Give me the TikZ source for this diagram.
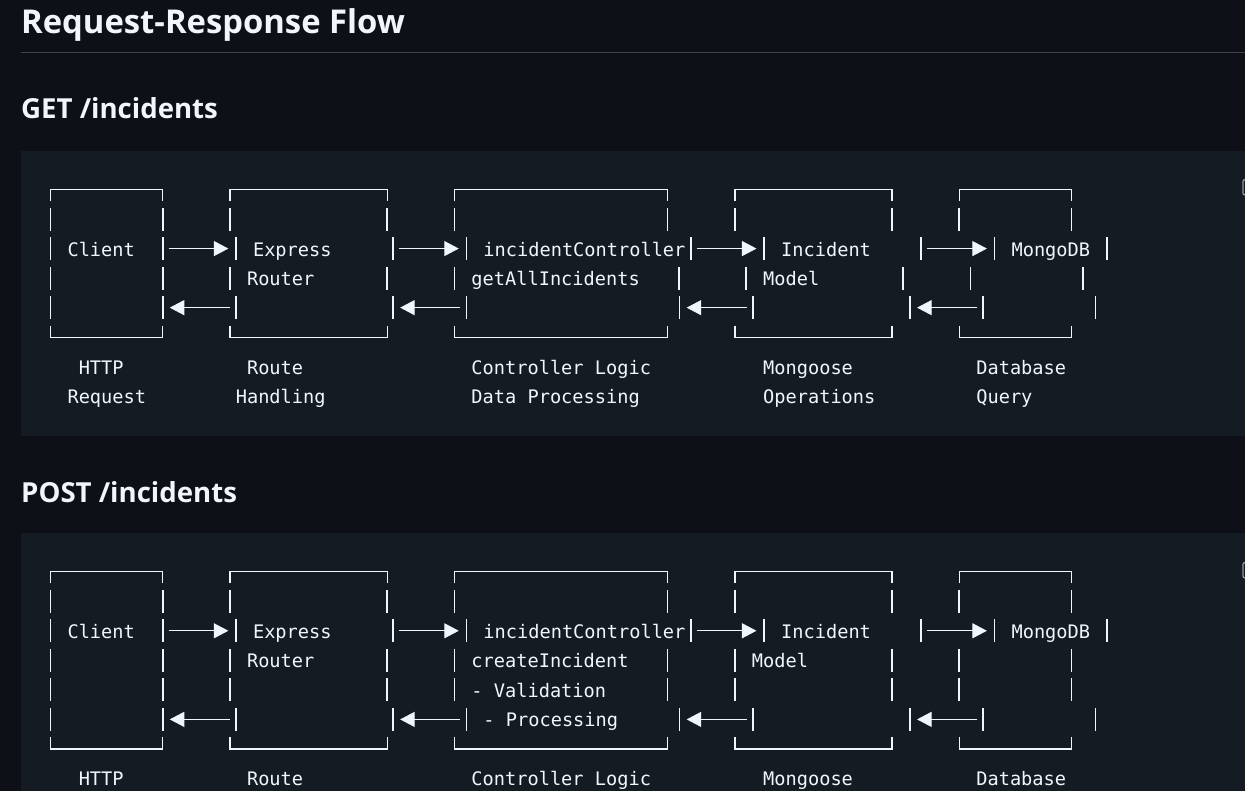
\documentclass[tikz,border=0pt]{standalone}
\usepackage{fontspec}
\usetikzlibrary{arrows.meta}
\setmainfont{Open Sans}
\newfontfamily\codefont{DejaVu Sans Mono}
\definecolor{pagebg}{HTML}{0D1117}
\definecolor{codebg}{HTML}{151B23}
\definecolor{rulec}{HTML}{3D444D}
\definecolor{fg}{HTML}{F0F6FC}
\definecolor{iconc}{HTML}{9198A1}

\begin{document}
\begin{tikzpicture}[
  bar/.style={fill=fg, inner sep=0pt, minimum width=1.7pt, minimum height=23pt},
  txt/.style={anchor=base west, inner sep=0pt, yshift=-7.5pt, text=fg, font=\codefont\fontsize{18.64}{22}\selectfont},
  border/.style={draw=fg, line width=1.2pt},
  flow/.style={draw=fg, line width=1.1pt, -{Triangle[length=14.5pt,width=15pt]}},
  fwd/.style={flow, shorten <=4.9pt, shorten >=6.6pt},
  back/.style={flow, shorten <=4.9pt, shorten >=6pt},
  heading/.style={anchor=base west, inner sep=0pt, text=fg}
]
\useasboundingbox (0,0) rectangle (1245pt,-791pt);
\clip (0,0) rectangle (1245pt,-791pt);
\fill[pagebg] (0,0) rectangle (1245pt,-791pt);

\node[heading, font=\bfseries\fontsize{32.8}{40}\selectfont] (title) at (21pt,-33.5pt) {Request-Response Flow};
\draw[rulec, line width=1pt] (21pt,-53pt) -- (1245pt,-53pt);
\node[heading, font=\bfseries\fontsize{27.6}{33}\selectfont] (getHead) at (21pt,-119pt) {GET /incidents};
\node[heading, font=\bfseries\fontsize{27.6}{33}\selectfont] (postHead) at (21pt,-502pt) {POST /incidents};

\fill[codebg] (21pt,-151pt) rectangle (1245pt,-435.7pt);
\fill[codebg] (21pt,-532.7pt) rectangle (1245pt,-791pt);
\draw[iconc, line width=1.3pt, rounded corners=2pt] (1243pt,-179.5pt) rectangle (1262pt,-195pt);
\draw[iconc, line width=1.3pt, rounded corners=2pt] (1243pt,-562.5pt) rectangle (1262pt,-578pt);

% GET /incidents
\begin{scope}[x=11.22pt, y=-29.54pt, shift={(50.5pt,-189.5pt)}]
\draw[border] (0,0.39) |- (10,0) -- (10,0.39);
\draw[border] (16,0.39) |- (30,0) -- (30,0.39);
\draw[border] (36,0.39) |- (55,0) -- (55,0.39);
\draw[border] (61,0.39) |- (75,0) -- (75,0.39);
\draw[border] (81,0.39) |- (91,0) -- (91,0.39);
\draw[border] (0,4.61) |- (10,5) -- (10,4.61);
\draw[border] (16,4.61) |- (30,5) -- (30,4.61);
\draw[border] (36,4.61) |- (55,5) -- (55,4.61);
\draw[border] (61,4.61) |- (75,5) -- (75,4.61);
\draw[border] (81,4.61) |- (91,5) -- (91,4.61);

\node[bar] (gCl1) at (0,1) {};
\node[bar] (gCr1) at (10,1) {};
\node[bar] (gRl1) at (16,1) {};
\node[bar] (gRr1) at (30,1) {};
\node[bar] (gKl1) at (36,1) {};
\node[bar] (gKr1) at (55,1) {};
\node[bar] (gMl1) at (61,1) {};
\node[bar] (gMr1) at (75,1) {};
\node[bar] (gDl1) at (81,1) {};
\node[bar] (gDr1) at (91,1) {};

\node[bar] (gCl2) at (0,2) {};
\node[bar] (gCr2) at (10,2) {};
\node[bar, xshift=6pt] (gRl2) at (16,2) {};
\node[bar, xshift=6pt] (gRr2) at (30,2) {};
\node[bar, xshift=12pt] (gKl2) at (36,2) {};
\node[bar, xshift=12pt] (gKr2) at (56,2) {};
\node[bar, xshift=18pt] (gMl2) at (62,2) {};
\node[bar, xshift=18pt] (gMr2) at (76,2) {};
\node[bar, xshift=24pt] (gDl2) at (82,2) {};
\node[bar, xshift=24pt] (gDr2) at (92,2) {};

\node[bar] (gCl3) at (0,3) {};
\node[bar] (gCr3) at (10,3) {};
\node[bar] (gRl3) at (16,3) {};
\node[bar] (gRr3) at (30,3) {};
\node[bar] (gKl3) at (36,3) {};
\node[bar] (gKr3) at (56,3) {};
\node[bar] (gMl3) at (62,3) {};
\node[bar] (gMr3) at (76,3) {};
\node[bar] (gDl3) at (82,3) {};
\node[bar] (gDr3) at (92,3) {};

\node[bar] (gCl4) at (0,4) {};
\node[bar] (gCr4) at (10,4) {};
\node[bar, xshift=6pt] (gRl4) at (16,4) {};
\node[bar, xshift=6pt] (gRr4) at (30,4) {};
\node[bar, xshift=12pt] (gKl4) at (36,4) {};
\node[bar, xshift=12pt] (gKr4) at (55,4) {};
\node[bar, xshift=18pt] (gMl4) at (61,4) {};
\node[bar, xshift=18pt] (gMr4) at (75,4) {};
\node[bar, xshift=24pt] (gDl4) at (81,4) {};
\node[bar, xshift=24pt] (gDr4) at (91,4) {};

\node[txt] (gClient) at (1.5,2) {Client};
\node[txt, xshift=6pt] (gExpress) at (17.5,2) {Express};
\node[txt, xshift=12pt] (gCtrl) at (37.5,2) {incidentController};
\node[txt, xshift=18pt] (gIncident) at (63.5,2) {Incident};
\node[txt, xshift=24pt] (gMongo) at (83.5,2) {MongoDB};
\node[txt] (gRouter) at (17.5,3) {Router};
\node[txt] (gGetAll) at (37.5,3) {getAllIncidents};
\node[txt] (gModel) at (63.5,3) {Model};

\node[txt] (gHttp) at (2.5,6) {HTTP};
\node[txt] (gRoute) at (17.5,6) {Route};
\node[txt] (gLogic) at (37.5,6) {Controller Logic};
\node[txt] (gMongoose) at (63.5,6) {Mongoose};
\node[txt] (gDatabase) at (82.5,6) {Database};
\node[txt] (gRequest) at (1.5,7) {Request};
\node[txt] (gHandling) at (16.5,7) {Handling};
\node[txt] (gProcessing) at (37.5,7) {Data Processing};
\node[txt] (gOperations) at (63.5,7) {Operations};
\node[txt] (gQuery) at (82.5,7) {Query};

\draw[fwd] (gCr2.east) -- (gRl2.west);
\draw[fwd] (gRr2.east) -- (gKl2.west);
\draw[fwd] (gKr2.east) -- (gMl2.west);
\draw[fwd] (gMr2.east) -- (gDl2.west);
\draw[back] (gRl4.west) -- (gCr4.east);
\draw[back] (gKl4.west) -- (gRr4.east);
\draw[back] (gMl4.west) -- (gKr4.east);
\draw[back] (gDl4.west) -- (gMr4.east);
\end{scope}

% POST /incidents
\begin{scope}[x=11.22pt, y=-29.54pt, shift={(50.5pt,-571.7pt)}]
\draw[border] (0,0.39) |- (10,0) -- (10,0.39);
\draw[border] (16,0.39) |- (30,0) -- (30,0.39);
\draw[border] (36,0.39) |- (55,0) -- (55,0.39);
\draw[border] (61,0.39) |- (75,0) -- (75,0.39);
\draw[border] (81,0.39) |- (91,0) -- (91,0.39);
\draw[border] (0,5.61) |- (10,6) -- (10,5.61);
\draw[border] (16,5.61) |- (30,6) -- (30,5.61);
\draw[border] (36,5.61) |- (55,6) -- (55,5.61);
\draw[border] (61,5.61) |- (75,6) -- (75,5.61);
\draw[border] (81,5.61) |- (91,6) -- (91,5.61);

\node[bar] (pCl1) at (0,1) {};
\node[bar] (pCr1) at (10,1) {};
\node[bar] (pRl1) at (16,1) {};
\node[bar] (pRr1) at (30,1) {};
\node[bar] (pKl1) at (36,1) {};
\node[bar] (pKr1) at (55,1) {};
\node[bar] (pMl1) at (61,1) {};
\node[bar] (pMr1) at (75,1) {};
\node[bar] (pDl1) at (81,1) {};
\node[bar] (pDr1) at (91,1) {};

\node[bar] (pCl2) at (0,2) {};
\node[bar] (pCr2) at (10,2) {};
\node[bar, xshift=6pt] (pRl2) at (16,2) {};
\node[bar, xshift=6pt] (pRr2) at (30,2) {};
\node[bar, xshift=12pt] (pKl2) at (36,2) {};
\node[bar, xshift=12pt] (pKr2) at (56,2) {};
\node[bar, xshift=18pt] (pMl2) at (62,2) {};
\node[bar, xshift=18pt] (pMr2) at (76,2) {};
\node[bar, xshift=24pt] (pDl2) at (82,2) {};
\node[bar, xshift=24pt] (pDr2) at (92,2) {};

\node[bar] (pCl3) at (0,3) {};
\node[bar] (pCr3) at (10,3) {};
\node[bar] (pRl3) at (16,3) {};
\node[bar] (pRr3) at (30,3) {};
\node[bar] (pKl3) at (36,3) {};
\node[bar] (pKr3) at (55,3) {};
\node[bar] (pMl3) at (61,3) {};
\node[bar] (pMr3) at (75,3) {};
\node[bar] (pDl3) at (81,3) {};
\node[bar] (pDr3) at (91,3) {};

\node[bar] (pCl4) at (0,4) {};
\node[bar] (pCr4) at (10,4) {};
\node[bar] (pRl4) at (16,4) {};
\node[bar] (pRr4) at (30,4) {};
\node[bar] (pKl4) at (36,4) {};
\node[bar] (pKr4) at (55,4) {};
\node[bar] (pMl4) at (61,4) {};
\node[bar] (pMr4) at (75,4) {};
\node[bar] (pDl4) at (81,4) {};
\node[bar] (pDr4) at (91,4) {};

\node[bar] (pCl5) at (0,5) {};
\node[bar] (pCr5) at (10,5) {};
\node[bar, xshift=6pt] (pRl5) at (16,5) {};
\node[bar, xshift=6pt] (pRr5) at (30,5) {};
\node[bar, xshift=12pt] (pKl5) at (36,5) {};
\node[bar, xshift=12pt] (pKr5) at (55,5) {};
\node[bar, xshift=18pt] (pMl5) at (61,5) {};
\node[bar, xshift=18pt] (pMr5) at (75,5) {};
\node[bar, xshift=24pt] (pDl5) at (81,5) {};
\node[bar, xshift=24pt] (pDr5) at (91,5) {};

\node[txt] (pClient) at (1.5,2) {Client};
\node[txt, xshift=6pt] (pExpress) at (17.5,2) {Express};
\node[txt, xshift=12pt] (pCtrl) at (37.5,2) {incidentController};
\node[txt, xshift=18pt] (pIncident) at (63.5,2) {Incident};
\node[txt, xshift=24pt] (pMongo) at (83.5,2) {MongoDB};
\node[txt] (pRouter) at (17.5,3) {Router};
\node[txt] (pCreate) at (37.5,3) {createIncident};
\node[txt] (pModel) at (62.5,3) {Model};
\node[txt] (pValid) at (37.5,4) {- Validation};
\node[txt, xshift=12pt] (pProc) at (37.5,5) {- Processing};

\node[txt] (pHttp) at (2.5,7) {HTTP};
\node[txt] (pRoute) at (17.5,7) {Route};
\node[txt] (pLogic) at (37.5,7) {Controller Logic};
\node[txt] (pMongoose) at (63.5,7) {Mongoose};
\node[txt] (pDatabase) at (82.5,7) {Database};

\draw[fwd] (pCr2.east) -- (pRl2.west);
\draw[fwd] (pRr2.east) -- (pKl2.west);
\draw[fwd] (pKr2.east) -- (pMl2.west);
\draw[fwd] (pMr2.east) -- (pDl2.west);
\draw[back] (pRl5.west) -- (pCr5.east);
\draw[back] (pKl5.west) -- (pRr5.east);
\draw[back] (pMl5.west) -- (pKr5.east);
\draw[back] (pDl5.west) -- (pMr5.east);
\end{scope}
\end{tikzpicture}
\end{document}
